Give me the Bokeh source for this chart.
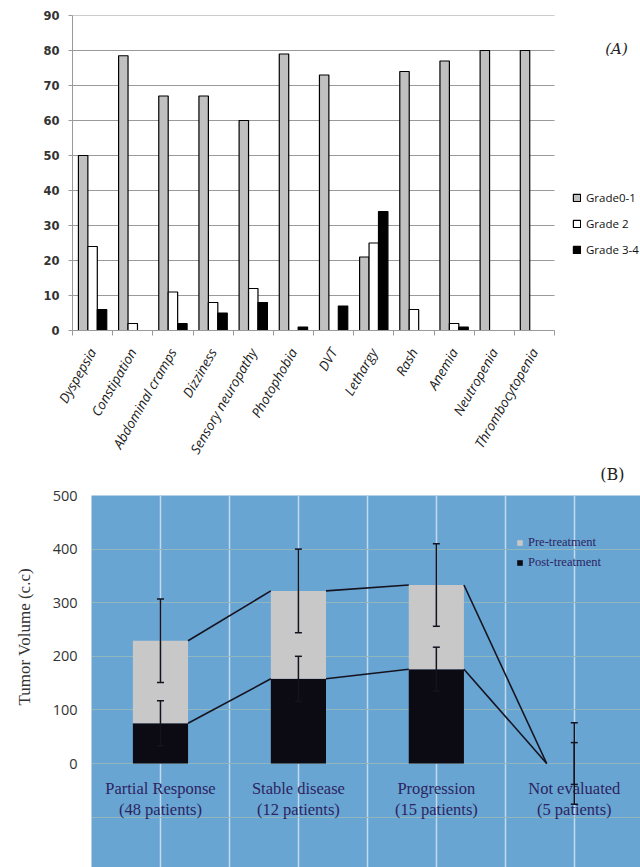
import math
from bokeh.plotting import figure
from bokeh.models import (ColumnDataSource, Range1d, FixedTicker, Legend, LegendItem,
                          Label, Whisker, TeeHead, CDSView, BooleanFilter, Title)
from bokeh.transform import dodge
from bokeh.embed import file_html
from bokeh.resources import INLINE
from bokeh.core.properties import value

# ---------------- Panel A data ----------------
effects = ["Dyspepsia", "Constipation", "Abdominal cramps", "Dizziness",
           "Sensory neuropathy", "Photophobia", "DVT", "Lethargy", "Rash",
           "Anemia", "Neutropenia", "Thrombocytopenia"]
grade01 = [50, 78.5, 67, 67, 60, 79, 73, 21, 74, 77, 80, 80]
grade2 = [24, 2, 11, 8, 12, 0, 0, 25, 6, 2, 0, 0]
grade34 = [6, 0, 2, 5, 8, 1, 7, 34, 0, 1, 0, 0]
grade_labels = ["Grade0-1", "Grade 2", "Grade 3-4"]
a_yticks = list(range(0, 91, 10))

# ---------------- Panel B data ----------------
responses = ["Partial Response\n(48 patients)", "Stable disease\n(12 patients)",
             "Progression\n(15 patients)", "Not evaluated\n(5 patients)"]
post = [75, 158, 176, 0]
pre = [154, 164, 157, 0]
pre_err = [78, 78, 77, 76]
post_err = [42, 42, 41, 39]
series_labels = ["Pre-treatment", "Post-treatment"]
b_yticks = [0, 100, 200, 300, 400, 500]
b_grid = [-200, -100, 0, 100, 200, 300, 400, 500]

GRID_A = "#9a9a9a"

# ================= Panel A =================
n = len(effects)
xa = list(range(n))
srcA = ColumnDataSource(dict(x=xa, g01=grade01, g2=grade2, g34=grade34))

pA = figure(width=640, height=485, output_backend="svg", toolbar_location=None,
            x_range=Range1d(-0.5, 13.64), y_range=Range1d(0, 90),
            min_border_left=72, min_border_right=0, min_border_top=15,
            min_border_bottom=155)
pA.outline_line_color = None
pA.background_fill_color = "white"
pA.border_fill_color = "white"
pA.xgrid.visible = False
pA.ygrid.visible = False

# horizontal gridlines limited to the category area
gsrc = ColumnDataSource(dict(y=a_yticks))
pA.segment(x0=-0.5, x1=n - 0.5, y0="y", y1="y", source=gsrc,
           line_color=GRID_A, line_width=1)

bw = 0.235
colorsA = ["#c0c0c0", "white", "black"]
rendA = []
for col, off, fc in zip(["g01", "g2", "g34"], [-bw, 0, bw], colorsA):
    vals = srcA.data[col]
    view = CDSView(filter=BooleanFilter([v > 0 for v in vals]))
    r = pA.vbar(x=dodge("x", off, range=pA.x_range), top=col, bottom=0, width=bw,
                source=srcA, view=view, fill_color=fc, line_color="black",
                line_width=1.2)
    rendA.append(r)

ya = pA.yaxis[0]
ya.ticker = FixedTicker(ticks=a_yticks)
ya.axis_line_color = GRID_A
ya.major_tick_line_color = GRID_A
ya.major_tick_out = 4
ya.major_tick_in = 0
ya.minor_tick_line_color = None
ya.major_label_text_font = "DejaVu Sans"
ya.major_label_text_font_style = "bold"
ya.major_label_text_font_size = "11.5px"
ya.major_label_text_color = "#333333"
ya.major_label_standoff = 9

xaA = pA.xaxis[0]
xaA.bounds = (-0.5, n - 0.5)
xaA.ticker = FixedTicker(ticks=xa, minor_ticks=[i - 0.5 for i in range(n + 1)])
xaA.major_label_overrides = {i: effects[i] for i in range(n)}
xaA.major_label_orientation = math.radians(60)
xaA.axis_line_color = GRID_A
xaA.major_tick_line_color = None
xaA.major_tick_out = 0
xaA.major_tick_in = 0
xaA.minor_tick_line_color = GRID_A
xaA.minor_tick_out = 5
xaA.minor_tick_in = 0
xaA.major_label_text_font = "Open Sans"
xaA.major_label_text_font_style = "italic"
xaA.major_label_text_font_size = "13.5px"
xaA.major_label_text_color = "#1a1a1a"
xaA.major_label_standoff = 14

legA = Legend(items=[LegendItem(label=lab, renderers=[r]) for lab, r in zip(grade_labels, rendA)],
              location=(500, 73), padding=0, margin=0, border_line_color=None,
              background_fill_alpha=0, glyph_width=9, glyph_height=9,
              label_height=14, spacing=11, label_standoff=5,
              label_text_font="Open Sans", label_text_font_size="11.5px",
              label_text_color="#111111")
pA.add_layout(legA)

pA.add_layout(Label(x=544, y=80.5, x_units="screen", y_units="data", text="(A)",
                    text_font="DejaVu Serif", text_font_style="italic",
                    text_font_size="15px", text_align="center",
                    text_baseline="middle", text_color="#222222"))

pA.add_layout(Title(text="(B)", align="right", offset=16, vertical_align="top",
                    standoff=0, text_font="DejaVu Serif", text_font_size="16px",
                    text_font_style="normal", text_color="#222222"), "below")

# ================= Panel B =================
m = len(responses)
xb = list(range(m))
post_top = post
total_top = [a + b for a, b in zip(post, pre)]
srcB = ColumnDataSource(dict(
    x=xb, post=post, pre=pre, label=responses,
    pre_hi=[t + e for t, e in zip(total_top, pre_err)],
    pre_lo=[t - e for t, e in zip(total_top, pre_err)],
    post_hi=[t + e for t, e in zip(post_top, post_err)],
    post_lo=[t - e for t, e in zip(post_top, post_err)],
))

pB = figure(width=640, height=382, output_backend="svg", toolbar_location=None,
            x_range=Range1d(-0.5, 3.48), y_range=Range1d(-194, 500),
            min_border_left=91, min_border_right=0, min_border_top=10,
            min_border_bottom=0)
pB.outline_line_color = None
pB.background_fill_color = "#68a5d3"
pB.border_fill_color = "white"

pB.xaxis.visible = False
pB.xgrid.ticker = FixedTicker(ticks=[i / 2 - 0.5 for i in range(2 * m + 1)])
pB.xgrid.grid_line_color = "#c2d9ee"
pB.xgrid.grid_line_width = 1.5
pB.ygrid.ticker = FixedTicker(ticks=b_grid)
pB.ygrid.grid_line_color = "#92b6bd"
pB.ygrid.grid_line_width = 1.2

yb = pB.yaxis[0]
yb.ticker = FixedTicker(ticks=b_yticks)
yb.axis_line_color = None
yb.major_tick_line_color = None
yb.minor_tick_line_color = None
yb.major_tick_out = 0
yb.major_label_text_font = "Open Sans"
yb.major_label_text_font_size = "14.5px"
yb.major_label_text_color = "#333333"
yb.major_label_standoff = 14

pB.add_layout(Title(text="Tumor Volume (c.c)", align="left", offset=162,
                    vertical_align="top", standoff=28,
                    text_font="Liberation Serif", text_font_size="17px",
                    text_font_style="normal", text_color="#333333"), "left")

bwB = 0.4
rendB = pB.vbar_stack(["post", "pre"], x="x", width=bwB, source=srcB,
                      fill_color=["#0c0b14", "#c8c8c8"], line_color=None)

# series lines between stacked bars
for level in (post_top, total_top):
    ls = ColumnDataSource(dict(x0=xb[:-1], x1=xb[1:], y0=level[:-1], y1=level[1:]))
    pB.segment(x0=dodge("x0", bwB / 2, range=pB.x_range), y0="y0",
               x1=dodge("x1", -bwB / 2, range=pB.x_range), y1="y1",
               source=ls, line_color="#15131f", line_width=1.6)

for hi, lo in (("pre_hi", "pre_lo"), ("post_hi", "post_lo")):
    w = Whisker(base="x", upper=hi, lower=lo, source=srcB, level="annotation",
                line_color="#15131f", line_width=1.5,
                upper_head=TeeHead(size=7, line_color="#15131f", line_width=1.5),
                lower_head=TeeHead(size=7, line_color="#15131f", line_width=1.5))
    pB.add_layout(w)

pB.text(x="x", y=0, text="label", source=srcB, y_offset=15,
        text_align="center", text_baseline="top",
        text_font=value("Liberation Serif"), text_font_size="16.5px",
        text_color="#2d2460", text_line_height=1.15)

legB = Legend(items=[LegendItem(label=series_labels[0], renderers=[rendB[1]]),
                     LegendItem(label=series_labels[1], renderers=[rendB[0]])],
              location=(425, 297), padding=0, margin=0, border_line_color=None,
              background_fill_alpha=0, glyph_width=7, glyph_height=7,
              label_height=14, spacing=5, label_standoff=5,
              label_text_font="Liberation Serif", label_text_font_size="12.5px",
              label_text_color="#2d2460")
pB.add_layout(legB)

open("out.html", "w").write(file_html([pA, pB], INLINE))
